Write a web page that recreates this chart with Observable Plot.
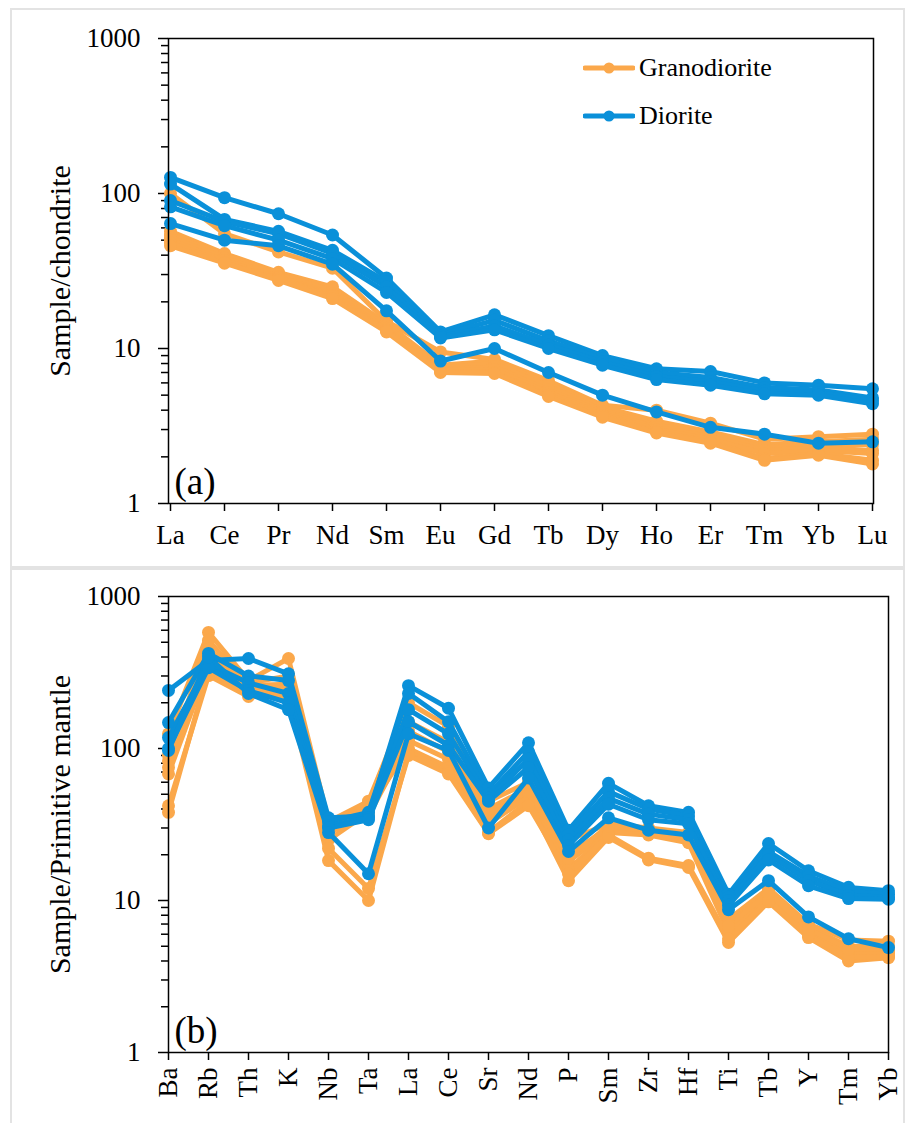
<!DOCTYPE html>
<html>
<head>
<meta charset="utf-8">
<script src="https://cdn.jsdelivr.net/npm/d3@7"></script>
<script src="https://cdn.jsdelivr.net/npm/@observablehq/plot@0.6"></script>
<style>
  html, body { margin: 0; padding: 0; background: #fff; }
  #wrap { position: relative; width: 906px; height: 1123px; overflow: hidden; background: #fff; font-family: "Liberation Serif", Tinos, "Times New Roman", "DejaVu Serif", serif; }
  .panel { position: absolute; left: 0; }
  .frame { position: absolute; border: 2px solid #e3e3e3; pointer-events: none; }
  .legend { position: absolute; left: 583px; }
  .row { position: absolute; left: 0; height: 28px; display: flex; align-items: center; white-space: nowrap; }
  .row span { font-size: 26px; line-height: 28px; color: #000; margin-left: 4px; }
  svg text { font-family: "Liberation Serif", Tinos, "Times New Roman", "DejaVu Serif", serif; }
</style>
</head>
<body>
<div id="wrap">
  <div id="pa" class="panel" style="top:0"></div>
  <div id="pb" class="panel" style="top:566px"></div>
  <div class="frame" style="left:10px; top:8px; width:891px; height:556px;"></div>
  <div class="frame" style="left:10px; top:568px; width:891px; height:600px;"></div>
  <div id="legend" class="legend" style="top:0"></div>
</div>
<script>
// ---------- data ----------
const rocks = ["Granodiorite", "Diorite"];
const rockColors = ["#FBA84B", "#0A90D9"];

const reeElements = ["La","Ce","Pr","Nd","Sm","Eu","Gd","Tb","Dy","Ho","Er","Tm","Yb","Lu"];
const spiderElements = ["Ba","Rb","Th","K","Nb","Ta","La","Ce","Sr","Nd","P","Sm","Zr","Hf","Ti","Tb","Y","Tm","Yb"];

const majorTicks = [1, 10, 100, 1000];
const minorTicks = [2,3,4,5,6,7,8,9,20,30,40,50,60,70,80,90,200,300,400,500,600,700,800,900];

// chondrite-normalised REE
const granodioriteREE = [
  [100, 55, 42, 33, 15, 9.5, 8.5, 6.2, 4.3, 4.0, 3.3, 2.6, 2.7, 2.8],
  [57, 41, 31, 25, 14.5, 7.8, 8.3, 5.9, 4.2, 3.4, 2.9, 2.4, 2.5, 2.6],
  [54, 40, 30, 23.5, 14, 7.5, 8.0, 5.7, 4.0, 3.2, 2.8, 2.3, 2.4, 2.4],
  [52, 38.5, 29, 22.5, 13.5, 7.3, 7.6, 5.4, 3.9, 3.1, 2.7, 2.2, 2.3, 2.2],
  [50, 37, 28.5, 22, 13.2, 7.2, 7.3, 5.2, 3.8, 3.0, 2.6, 2.1, 2.2, 2.1],
  [48, 36, 28, 21.5, 13, 7.1, 7.0, 5.0, 3.7, 2.9, 2.5, 1.95, 2.1, 1.9],
  [46, 35.5, 27.5, 21, 12.8, 7.0, 6.9, 4.9, 3.6, 2.85, 2.45, 1.9, 2.05, 1.8]
];
const dioriteREE = [
  [127, 94, 74, 54, 28.5, 12.8, 16.5, 12.1, 9.0, 7.4, 7.1, 6.0, 5.8, 5.5],
  [115, 68, 57, 43, 27, 12.3, 15.2, 11.2, 8.6, 7.0, 6.5, 5.6, 5.4, 4.8],
  [90, 66, 55, 41, 25, 12.0, 14.0, 10.5, 8.2, 6.6, 6.1, 5.3, 5.2, 4.6],
  [82, 62, 50, 38, 23, 11.7, 13.2, 10.0, 7.8, 6.3, 5.8, 5.1, 5.0, 4.4],
  [64, 50, 46, 35, 17.5, 8.3, 10.0, 7.0, 5.0, 3.9, 3.1, 2.8, 2.45, 2.5]
];

// primitive-mantle-normalised trace elements
const granodioriteSpider = [
  [125, 580, 280, 391, 33, 45, 200, 140, 45, 60, 25, 32, 30, 28, 7.5, 12, 7.0, 5.5, 5.4],
  [83, 515, 260, 265, 25, 38, 150, 110, 40, 55, 20, 30, 29, 26, 7.0, 11.5, 6.7, 5.0, 5.0],
  [75, 420, 250, 250, 28, 36, 113, 85, 35, 50, 18, 29, 28, 25, 6.5, 11, 6.3, 4.7, 4.7],
  [68, 350, 230, 240, 30, 40, 100, 75, 32, 48, 16, 28, 27, 24, 6.2, 10.5, 6.0, 4.4, 4.5],
  [42, 302, 220, 220, 18.3, 10, 95, 70, 28, 45, 13.5, 26, 18.5, 16.5, 5.3, 9.8, 5.7, 4.0, 4.2],
  [38, 330, 225, 230, 22, 12, 90, 68, 27.5, 42, 15, 27, 19, 17, 5.6, 10, 5.9, 4.2, 4.3],
  [90, 450, 270, 300, 31, 42, 130, 95, 38, 52, 19, 31, 29, 27, 6.8, 11.2, 6.5, 4.8, 4.8]
];
const dioriteSpider = [
  [241, 380, 391, 310, 35, 36, 259, 184, 55, 109, 29, 59, 42, 38, 11, 23.7, 15.7, 12.2, 11.6],
  [148, 422, 300, 280, 33, 38, 230, 150, 50, 95, 27, 52, 40, 36, 10.5, 21, 14.5, 11.5, 11],
  [118, 360, 270, 230, 31, 35, 180, 125, 47, 85, 25, 47, 37, 34, 10, 20, 13.5, 10.8, 10.5],
  [100, 340, 240, 200, 30, 34, 150, 105, 45, 75, 23, 43, 34, 32, 9.3, 18.5, 12.5, 10.3, 10.2],
  [97, 400, 230, 180, 28, 15, 125, 97, 30, 64, 21, 35, 29, 27, 8.7, 13.5, 7.8, 5.6, 4.9]
];

// ---------- helpers ----------
function tidy(elements, sets, rock) {
  const out = [];
  sets.forEach((vals, i) => vals.forEach((v, j) => out.push({el: elements[j], v, id: rock + i, rock})));
  return out;
}
const fontFamily = '"Liberation Serif", Tinos, "Times New Roman", "DejaVu Serif", serif';

function seriesMarks(rows) {
  const marks = [];
  for (const rock of rocks) {
    const sub = rows.filter(d => d.rock === rock);
    marks.push(Plot.line(sub, {x: "el", y: "v", z: "id", stroke: "rock", strokeWidth: 5, strokeLinejoin: "round", strokeLinecap: "round"}));
    marks.push(Plot.dot(sub, {x: "el", y: "v", fill: "rock", r: 6.5, stroke: null}));
  }
  return marks;
}

function panel({elements, rows, height, marginTop, marginBottom, marginRight, title, tag, rotate}) {
  return Plot.plot({
    width: 906,
    height,
    marginLeft: 168,
    marginRight,
    marginTop,
    marginBottom,
    style: {fontFamily, fontSize: "27px", color: "black", background: "transparent", overflow: "visible"},
    x: {type: "point", domain: elements, padding: 0},
    y: {type: "log", domain: [1, 1000]},
    color: {domain: rocks, range: rockColors},
    marks: [
      Plot.axisY({ticks: majorTicks, tickSize: 10, tickPadding: 18, tickFormat: d => String(d), label: null, strokeWidth: 1.5}),
      Plot.axisY({ticks: minorTicks, tickSize: 7, tickFormat: () => "", label: null, strokeWidth: 1.5}),
      rotate
        ? Plot.axisX({tickSize: 8, tickPadding: 7, tickRotate: -90, label: null, strokeWidth: 1.5})
        : Plot.axisX({tickSize: 8, tickPadding: 13, label: null, strokeWidth: 1.5}),
      Plot.text([title], {text: d => d, frameAnchor: "left", textAnchor: "middle", rotate: -90, dx: -108, fontSize: 30}),
      ...seriesMarks(rows),
      Plot.frame({stroke: "black", strokeWidth: 1.5}),
      Plot.text([tag], {text: d => d, frameAnchor: "bottom-left", dx: 6, dy: -10, textAnchor: "start", lineAnchor: "bottom", fontSize: 37})
    ]
  });
}

const rowsA = [...tidy(reeElements, granodioriteREE, "Granodiorite"), ...tidy(reeElements, dioriteREE, "Diorite")];
const rowsB = [...tidy(spiderElements, granodioriteSpider, "Granodiorite"), ...tidy(spiderElements, dioriteSpider, "Diorite")];

document.getElementById("pa").appendChild(panel({
  elements: reeElements, rows: rowsA, height: 566, marginTop: 38, marginBottom: 63, marginRight: 33,
  title: "Sample/chondrite", tag: "(a)", rotate: false
}));
document.getElementById("pb").appendChild(panel({
  elements: spiderElements, rows: rowsB, height: 557, marginTop: 30, marginBottom: 71, marginRight: 18,
  title: "Sample/Primitive mantle", tag: "(b)", rotate: true
}));

// ---------- legend ----------
const legend = document.getElementById("legend");
const rowTops = [54, 102];
rocks.forEach((rock, i) => {
  const row = document.createElement("div");
  row.className = "row";
  row.style.top = rowTops[i] + "px";
  const c = rockColors[i];
  row.innerHTML = `<svg width="52" height="28"><line x1="2" x2="50" y1="14" y2="14" stroke="${c}" stroke-width="5" stroke-linecap="round"/><circle cx="26" cy="14" r="5.5" fill="${c}"/></svg><span>${rock}</span>`;
  legend.appendChild(row);
});
</script>
</body>
</html>
